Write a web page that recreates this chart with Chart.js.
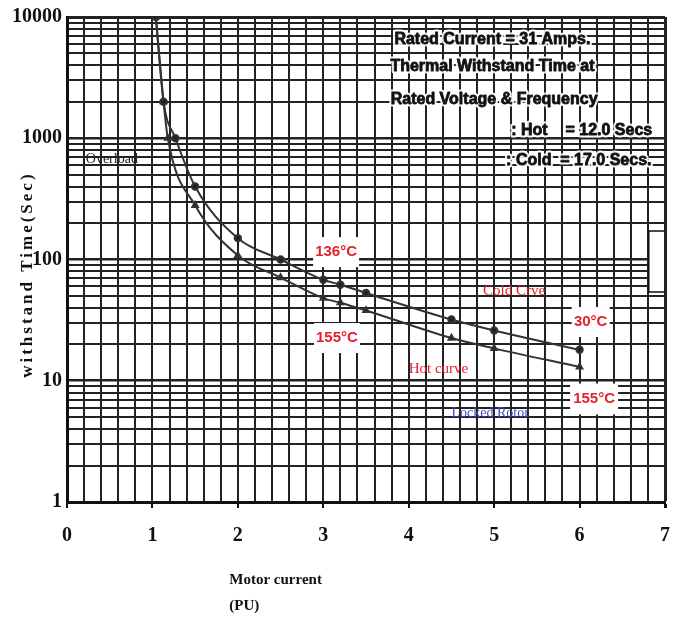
<!DOCTYPE html>
<html>
<head>
<meta charset="utf-8">
<script src="https://cdn.jsdelivr.net/npm/chart.js@4.4.1/dist/chart.umd.min.js"></script>
<style>
  html, body { margin: 0; padding: 0; background: #fff; }
  #wrap { width: 686px; height: 622px; position: relative; }
</style>
</head>
<body>
<div id="wrap"><canvas id="curveChart"></canvas></div>
<script>
// motor current (PU) vs withstand time (sec)
const coldCurrent = [1.04, 1.13, 1.27, 1.5, 2, 2.5, 3, 3.2, 3.5, 4.5, 5, 6];
const coldTime    = [10000, 2000, 1000, 400, 150, 100, 68, 62, 53, 32, 26, 18];
const hotCurrent  = [1.04, 1.13, 1.18, 1.5, 2, 2.5, 3, 3.2, 3.5, 4.5, 5, 6];
const hotTime     = [10000, 2000, 1000, 280, 108, 71, 48, 44, 38, 22.5, 18.5, 13];

const xTickLabels = [0, 1, 2, 3, 4, 5, 6, 7];
const yDecades = [1, 10, 100, 1000, 10000];
const mantissas = [1, 2, 3, 4, 5, 6, 7, 8, 9];

const serif = '"Liberation Serif", "DejaVu Serif", serif';
const sans = '"Liberation Sans", Arial, sans-serif';
const narrow = '"Liberation Sans Narrow", "Liberation Sans", sans-serif';
const red = '#e3202b';
const gridColor = '#222';

// log paper lines: 1..9 in each decade
let yTicks = [];
yDecades.slice(0, -1).forEach(d => mantissas.forEach(m => yTicks.push(m * d)));
yTicks.push(10000);

const isWhole = v => Math.abs(v - Math.round(v)) < 1e-9;

const infoLines = [
    { text: 'Rated Current = 31 Amps.', x: 4.98, y: 6450, align: 'center' },
    { text: 'Thermal Withstand Time at', x: 4.98, y: 3900, align: 'center' },
    { text: 'Rated Voltage & Frequency', x: 5.0, y: 2070, align: 'center' },
    { text: ': Hot    = 12.0 Secs', x: 5.2, y: 1150, align: 'left' },
    { text: ': Cold  = 17.0 Secs.', x: 5.14, y: 650, align: 'left' }
];

const tempLabels = [
    { text: '136°C', x: 3.15, y: 115, w: 46, h: 30 },
    { text: '155°C', x: 3.16, y: 22.5, w: 46, h: 30 },
    { text: '30°C', x: 6.13, y: 30.5, w: 38, h: 30 },
    { text: '155°C', x: 6.17, y: 7.07, w: 48, h: 31 }
];

const curveNotes = [
    { text: 'Cold Crve', x: 4.87, y: 55, color: red, size: 15 },
    { text: 'Hot curve', x: 4.0, y: 12.5, color: red, size: 15 },
    { text: 'Locked Rotor', x: 4.5, y: 5.4, color: '#4646cc', size: 14 },
    { text: 'Overload', x: 0.22, y: 675, color: '#222', size: 14 }
];

const notesPlugin = {
    id: 'notes',
    afterDatasetsDraw(chart) {
        const { ctx, chartArea, scales: { x, y } } = chart;
        ctx.save();

        // small boxed strip at the right edge
        const bx = x.getPixelForValue(6.81);
        const by1 = y.getPixelForValue(172), by2 = y.getPixelForValue(54);
        ctx.fillStyle = '#fff';
        ctx.fillRect(bx, by1, chartArea.right - bx - 1, by2 - by1);
        ctx.strokeStyle = '#111';
        ctx.lineWidth = 1.5;
        ctx.beginPath();
        ctx.moveTo(chartArea.right, by1);
        ctx.lineTo(bx, by1);
        ctx.lineTo(bx, by2);
        ctx.lineTo(chartArea.right, by2);
        ctx.stroke();

        // rating text block
        ctx.font = 'bold 16px ' + sans;
        ctx.textBaseline = 'middle';
        ctx.lineJoin = 'round';
        infoLines.forEach(l => {
            const px = x.getPixelForValue(l.x), py = y.getPixelForValue(l.y);
            ctx.textAlign = l.align;
            ctx.strokeStyle = 'rgba(255,255,255,0.9)';
            ctx.lineWidth = 5;
            ctx.strokeText(l.text, px, py);
            ctx.fillStyle = '#111';
            ctx.fillText(l.text, px, py);
            ctx.strokeStyle = '#111';
            ctx.lineWidth = 0.8;
            ctx.strokeText(l.text, px, py);
        });

        // temperature tags on white boxes
        ctx.font = 'bold 15px ' + narrow;
        ctx.textAlign = 'center';
        tempLabels.forEach(t => {
            const px = x.getPixelForValue(t.x), py = y.getPixelForValue(t.y);
            ctx.fillStyle = '#fff';
            ctx.fillRect(px - t.w / 2, py - t.h / 2, t.w, t.h);
            ctx.fillStyle = red;
            ctx.fillText(t.text, px, py);
        });

        // curve names
        ctx.textAlign = 'left';
        curveNotes.forEach(n => {
            ctx.font = n.size + 'px ' + serif;
            ctx.fillStyle = n.color;
            ctx.fillText(n.text, x.getPixelForValue(n.x), y.getPixelForValue(n.y));
        });

        // axis titles
        ctx.fillStyle = '#111';
        ctx.font = 'bold 15px ' + serif;
        const tx = x.getPixelForValue(1.9);
        ctx.fillText('Motor current', tx, chartArea.bottom + 78);
        ctx.fillText('(PU)', tx, chartArea.bottom + 104);

        ctx.translate(28, y.getPixelForValue(75));
        ctx.rotate(-Math.PI / 2);
        ctx.textAlign = 'center';
        ctx.font = 'bold 17px ' + serif;
        ctx.letterSpacing = '3px';
        ctx.fillText('withstand Time(Sec)', 0, 0);
        ctx.restore();
    }
};

new Chart(document.getElementById('curveChart'), {
    type: 'line',
    data: {
        datasets: [
            {
                label: 'Cold curve',
                data: coldCurrent.map((c, i) => ({ x: c, y: coldTime[i] })),
                borderColor: '#333',
                backgroundColor: '#222',
                borderWidth: 2,
                pointRadius: 3.2,
                pointStyle: 'circle',
                cubicInterpolationMode: 'monotone'
            },
            {
                label: 'Hot curve',
                data: hotCurrent.map((c, i) => ({ x: c, y: hotTime[i] })),
                borderColor: '#333',
                backgroundColor: '#222',
                borderWidth: 2,
                pointRadius: 3.2,
                pointStyle: 'triangle',
                cubicInterpolationMode: 'monotone'
            }
        ]
    },
    options: {
        responsive: true,
        maintainAspectRatio: false,
        animation: false,
        layout: { padding: { left: 0, right: 16, top: 17, bottom: 0 } },
        plugins: {
            legend: { display: false },
            tooltip: { enabled: false }
        },
        scales: {
            x: {
                type: 'linear',
                min: 0,
                max: 7,
                afterFit: s => { s.height = 120; },
                ticks: {
                    stepSize: 0.2,
                    autoSkip: false,
                    maxRotation: 0,
                    padding: 16,
                    color: '#111',
                    font: { family: serif, size: 20, weight: 'bold' },
                    callback: v => isWhole(v) && xTickLabels.includes(Math.round(v)) ? String(Math.round(v)) : ''
                },
                grid: {
                    color: gridColor,
                    lineWidth: c => (c.tick && isWhole(c.tick.value) && c.tick.value === 7) ? 3 : 2,
                    drawTicks: true,
                    tickLength: 6,
                    tickColor: c => (c.tick && isWhole(c.tick.value)) ? '#111' : 'rgba(0,0,0,0)'
                },
                border: { color: '#111', width: 3 }
            },
            y: {
                type: 'logarithmic',
                min: 1,
                max: 10000,
                afterFit: s => { s.width = 67; },
                afterBuildTicks: s => { s.ticks = yTicks.map(v => ({ value: v })); },
                ticks: {
                    autoSkip: false,
                    padding: 5,
                    color: '#111',
                    font: { family: serif, size: 20, weight: 'bold' },
                    callback: v => yDecades.includes(v) ? String(v) : ''
                },
                grid: {
                    color: gridColor,
                    lineWidth: c => {
                        if (!c.tick) return 2;
                        if (c.tick.value === 10000) return 3;
                        return yDecades.includes(c.tick.value) ? 2.6 : 2;
                    },
                    drawTicks: false
                },
                border: { color: '#111', width: 3 }
            }
        }
    },
    plugins: [notesPlugin]
});
</script>
</body>
</html>
